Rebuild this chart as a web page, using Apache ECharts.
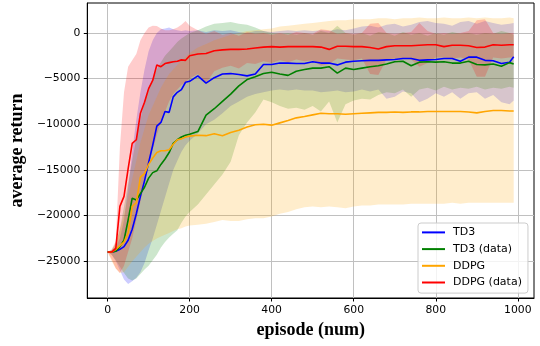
<!DOCTYPE html>
<html>
<head>
<meta charset="utf-8">
<title></title>
<script src="https://cdn.jsdelivr.net/npm/echarts@6/dist/echarts.min.js"></script>
<style>
*{ padding:0; margin:0; }
#chart{ width:540px; height:346px; }
</style>
</head>
<body>
<div id="chart"></div>
<script>
var episodes = [0,10,20,30,40,50,60,70,80,90,100,110,120,130,140,150,160,170,180,190,200,
    220,240,260,280,300,320,340,360,380,400,420,440,460,480,500,520,540,560,580,600,
    620,640,660,680,700,720,740,760,780,800,820,840,860,880,900,920,940,960,980,990];

// TD3
var td3 = [-24000,-24000,-23900,-23700,-23400,-22700,-21500,-19800,-17900,-16200,-14200,-12300,-10200,-9800,-8600,-8700,-7000,-6500,-6200,-5400,-5300,
    -4700,-5500,-4900,-4500,-4450,-4550,-4700,-4500,-3450,-3450,-3300,-3300,-3350,-3350,-3150,-3300,-3300,-3500,-3200,-3100,
    -3050,-3000,-3000,-2950,-2900,-2800,-2800,-3000,-2950,-2900,-2800,-2800,-3100,-2650,-2650,-3000,-3050,-3350,-3200,-2600];
var td3Hi = [-24000,-23800,-23400,-22500,-20500,-17000,-13000,-9500,-6500,-4000,-2000,-800,0,400,500,600,400,300,200,300,200,
    300,100,300,200,300,100,0,200,200,100,200,300,200,300,200,300,200,400,300,500,
    700,800,600,900,1000,700,900,1200,1300,1100,1000,800,1200,1300,1000,1300,1100,900,1000,1100];
var td3Lo = [-24000,-24300,-25000,-26000,-27000,-27500,-27200,-26800,-26200,-25200,-23800,-22500,-21000,-19500,-18000,-16500,-15000,-14000,-13000,-12300,-11800,
    -11000,-10000,-9500,-8800,-8000,-7500,-7000,-6700,-6500,-6300,-6200,-6300,-6200,-6300,-6300,-6500,-6400,-6300,-6500,-6400,
    -6200,-6400,-6200,-7200,-7000,-6400,-6600,-7600,-7200,-6600,-7000,-6500,-7200,-6600,-6500,-7200,-6800,-7600,-7800,-7400];

// TD3 (data)
var td3d = [-24000,-24000,-23900,-23400,-22700,-20500,-18100,-18300,-17600,-16900,-15900,-15300,-15100,-14400,-13800,-13100,-12100,-11700,-11400,-11200,-11100,
    -10800,-9000,-8300,-7500,-6700,-5800,-5100,-4800,-4450,-4300,-4500,-4650,-4200,-4000,-3850,-3850,-3700,-4400,-3850,-4000,
    -3850,-3700,-3600,-3400,-3150,-3100,-3600,-3200,-3150,-3200,-3150,-3300,-3300,-3100,-3450,-3500,-3400,-3650,-3250,-3400];
var td3dHi = [-24000,-23800,-23000,-21500,-19000,-16500,-14000,-11500,-9500,-7500,-6000,-5000,-4000,-3200,-2500,-2000,-1500,-1000,-600,-300,0,
    300,700,1000,1100,1200,1000,900,600,200,0,-100,0,-200,0,-200,200,0,800,0,-200,
    0,-300,100,0,-300,100,-200,0,-300,0,-200,100,-100,0,-200,0,-100,200,0,-200];
var td3dLo = [-24000,-24300,-24900,-25600,-26300,-26900,-27100,-26900,-26400,-25900,-25500,-24900,-24300,-23500,-22900,-22400,-22000,-21600,-20800,-20100,-19600,
    -18800,-17700,-16600,-15500,-14100,-11200,-9800,-8700,-7300,-7600,-8000,-8300,-8200,-8400,-8000,-8600,-7500,-9800,-7800,-7400,
    -7200,-7300,-6800,-6500,-6600,-6200,-7000,-6200,-6000,-6300,-5900,-6200,-6000,-6100,-5900,-6200,-6000,-6100,-5900,-6000];

// DDPG
var ddpg = [-24000,-24000,-23700,-23300,-22900,-21900,-19000,-18600,-15800,-15400,-14400,-13700,-13100,-12900,-12900,-12800,-12200,-11700,-11600,-11400,-11300,
    -11200,-11250,-11050,-11250,-10900,-10650,-10300,-10050,-10000,-10100,-9850,-9600,-9300,-9150,-8970,-8800,-8850,-8850,-8900,-8850,
    -8800,-8750,-8700,-8700,-8650,-8700,-8650,-8650,-8600,-8600,-8600,-8600,-8600,-8650,-8750,-8600,-8500,-8500,-8550,-8550];
var ddpgHi = [-24000,-23800,-23000,-21500,-20000,-18000,-16000,-14000,-12000,-10500,-9000,-8000,-7000,-6000,-5200,-4500,-4000,-3500,-3000,-2600,-2200,
    -1600,-1200,-800,-500,-200,0,200,300,400,500,700,800,900,1000,1100,1200,1300,1400,1400,1500,
    1500,1500,1600,1600,1500,1600,1600,1700,1600,1600,1700,1600,1600,1700,1600,1700,1600,1600,1700,1600];
var ddpgLo = [-24000,-25000,-25800,-26300,-26200,-25600,-25000,-24500,-24000,-23500,-23100,-22800,-22500,-22300,-22100,-21900,-21700,-21500,-21400,-21200,-21100,
    -21000,-20900,-20700,-20500,-20600,-20600,-20400,-20300,-20300,-20100,-19800,-19600,-19300,-19100,-19000,-19100,-19000,-19100,-19200,-19000,
    -18900,-18900,-18800,-18800,-18800,-18800,-18700,-18700,-18700,-18700,-18700,-18600,-18700,-18600,-18600,-18600,-18600,-18600,-18600,-18600];

// DDPG (data)
var ddpgd = [-24000,-24000,-23600,-19000,-17900,-14900,-12100,-11700,-8800,-7600,-6100,-5200,-3500,-3700,-3350,-3250,-3150,-3100,-2950,-3000,-2500,
    -2300,-2250,-1950,-1850,-1800,-1800,-1750,-1650,-1550,-1500,-1550,-1500,-1500,-1500,-1500,-1550,-1800,-1450,-1450,-1500,
    -1500,-1600,-1750,-1500,-1400,-1400,-1400,-1350,-1300,-1300,-1500,-1350,-1350,-1400,-1600,-1550,-1300,-1350,-1300,-1300];
var ddpgdHi = [-24000,-23700,-22800,-12500,-6500,-3700,-3000,-2300,-800,0,600,800,750,500,300,300,400,600,900,1300,800,
    300,-100,200,-200,0,-300,100,-100,0,-200,0,-200,100,0,-100,400,300,-100,0,-100,
    0,1000,1100,0,-100,0,100,1100,200,-100,0,-100,0,200,1400,1500,0,-100,0,0];
var ddpgdLo = [-24000,-24800,-25800,-26300,-25500,-24000,-22500,-20500,-18500,-16500,-14500,-12800,-11200,-9800,-8600,-7500,-6700,-6200,-5700,-5400,-5000,
    -4500,-5500,-4200,-3800,-3600,-3900,-3300,-3400,-3100,-3300,-3000,-3200,-2900,-3100,-3000,-3600,-3400,-2800,-2900,-3000,
    -2800,-4500,-4600,-2900,-2800,-2800,-2900,-3700,-3300,-2700,-2700,-2800,-2700,-2900,-4800,-4800,-2700,-2800,-2700,-2700];

var xTicks = [0, 200, 400, 600, 800, 1000];
var yTicks = [-25000, -20000, -15000, -10000, -5000, 0];

var chart = echarts.init(document.getElementById('chart'));

function pairs(vals) {
    return episodes.map(function (e, i) { return [e, vals[i]]; });
}

// shaded band between lo and hi, one polygon
function band(lo, hi, fill) {
    return {
        type: 'custom',
        silent: true,
        data: [[episodes[0], lo[0]]],
        renderItem: function (params, api) {
            var pts = [];
            for (var i = 0; i < episodes.length; i++) pts.push(api.coord([episodes[i], hi[i]]));
            for (var j = episodes.length - 1; j >= 0; j--) pts.push(api.coord([episodes[j], lo[j]]));
            return { type: 'polygon', shape: { points: pts }, style: { fill: fill } };
        }
    };
}

function line(name, vals, color) {
    return {
        name: name,
        type: 'line',
        data: pairs(vals),
        symbol: 'none',
        showSymbol: false,
        lineStyle: { color: color, width: 1.6 },
        itemStyle: { color: color }
    };
}

var tickFont = { fontFamily: 'DejaVu Sans', fontSize: 10.8, color: '#000' };
var minus = function (v) { return String(v).replace('-', '\u2212'); };

var option = {
    animation: false,
    grid: { left: 85, right: 6, top: 3, bottom: 48, show: true, borderColor: '#000', borderWidth: 1 },
    xAxis: {
        type: 'value', min: -49.5, max: 1039.5,
        name: 'episode (num)', nameLocation: 'middle', nameGap: 17,
        nameTextStyle: { fontFamily: 'Liberation Serif', fontWeight: 'bold', fontSize: 18, color: '#000' },
        axisLine: { onZero: false, lineStyle: { color: '#000', width: 1 } },
        axisTick: { customValues: xTicks, length: 3.5, lineStyle: { color: '#000' } },
        axisLabel: Object.assign({ customValues: xTicks, margin: 7, formatter: minus }, tickFont),
        splitLine: { show: true, lineStyle: { color: '#c0c0c0', width: 1 } }
    },
    yAxis: {
        type: 'value', min: -29030, max: 3280,
        name: 'average return', nameLocation: 'middle', nameGap: 50, nameRotate: 90,
        nameTextStyle: { fontFamily: 'Liberation Serif', fontWeight: 'bold', fontSize: 18, color: '#000' },
        axisLine: { show: true, onZero: false, lineStyle: { color: '#000', width: 1 } },
        axisTick: { show: true, customValues: yTicks, length: 3.5, lineStyle: { color: '#000' } },
        axisLabel: Object.assign({ customValues: yTicks, margin: 7, formatter: minus }, tickFont),
        splitLine: { show: true, lineStyle: { color: '#c0c0c0', width: 1 } }
    },
    legend: {
        data: ['TD3', 'TD3 (data)', 'DDPG', 'DDPG (data)'],
        orient: 'vertical', left: 418, top: 223,
        icon: 'rect', itemWidth: 23, itemHeight: 2, itemGap: 4.7,
        padding: [3.4, 6, 4.6, 4],
        backgroundColor: 'rgba(255,255,255,0.8)', borderColor: '#cccccc', borderWidth: 1, borderRadius: 3,
        textStyle: { fontFamily: 'DejaVu Sans', fontSize: 11, color: '#000', lineHeight: 12, padding: [0, 0, 0, 3] }
    },
    series: [
        band(td3Lo, td3Hi, 'rgba(0,0,255,0.2)'),
        band(td3dLo, td3dHi, 'rgba(0,128,0,0.2)'),
        band(ddpgLo, ddpgHi, 'rgba(255,165,0,0.2)'),
        band(ddpgdLo, ddpgdHi, 'rgba(255,0,0,0.2)'),
        line('TD3', td3, '#0000ff'),
        line('TD3 (data)', td3d, '#008000'),
        line('DDPG', ddpg, '#ffa500'),
        line('DDPG (data)', ddpgd, '#ff0000')
    ]
};
chart.setOption(option);
</script>
</body>
</html>
